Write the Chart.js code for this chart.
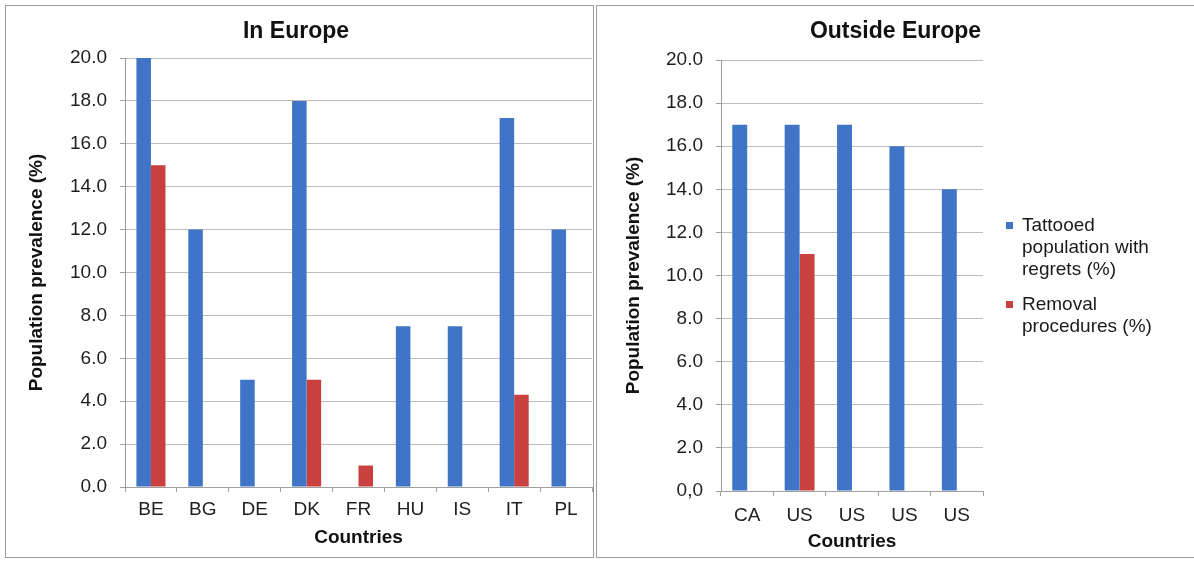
<!DOCTYPE html>
<html>
<head>
<meta charset="utf-8">
<script src="https://cdn.jsdelivr.net/npm/chart.js@4.4.1/dist/chart.umd.min.js"></script>
<style>
html,body{margin:0;padding:0;background:#fff;width:1194px;height:563px;overflow:hidden;font-family:"Liberation Sans",Arial,sans-serif;}
canvas{position:absolute;top:0;}
#c1{left:0;}
#c2{left:597px;}
.panel{position:absolute;border:1.5px solid #9c9c9c;box-sizing:border-box;pointer-events:none;}
#p1{left:5px;top:5px;width:589px;height:553px;}
#p2{left:596px;top:5px;width:620px;height:553px;}
#legend{position:absolute;left:1004px;top:214px;font-size:19px;line-height:22px;color:#1a1a1a;}
.item{position:relative;padding-left:18px;width:145px;}
.item + .item{margin-top:13px;}
.sw{position:absolute;left:2px;top:8px;width:7px;height:7px;}
</style>
</head>
<body>
<canvas id="c1" width="594" height="563"></canvas>
<canvas id="c2" width="597" height="563"></canvas>
<div class="panel" id="p1"></div>
<div class="panel" id="p2"></div>
<div id="legend"></div>
<script>
// ---- data ----
const leftCategories = ['BE', 'BG', 'DE', 'DK', 'FR', 'HU', 'IS', 'IT', 'PL'];
const leftRegrets = [20, 12, 5, 18, null, 7.5, 7.5, 17.2, 12];
const leftRemoval = [15, null, null, 5, 1, null, null, 4.3, null];

const rightCategories = ['CA', 'US', 'US', 'US', 'US'];
const rightRegrets = [17, 17, 17, 16, 14];
const rightRemoval = [null, 11, null, null, null];

const leftTickLabels = ['0.0', '2.0', '4.0', '6.0', '8.0', '10.0', '12.0', '14.0', '16.0', '18.0', '20.0'];
const rightTickLabels = ['0,0', '2.0', '4.0', '6.0', '8.0', '10.0', '12.0', '14.0', '16.0', '18.0', '20.0'];

const seriesNames = ['Tattooed population with regrets (%)', 'Removal procedures (%)'];
const panelTitles = ['In Europe', 'Outside Europe'];
const xAxisTitle = 'Countries';
const yAxisTitle = 'Population prevalence (%)';

// ---- styles ----
const BLUE = '#3F74C6';
const RED = '#C9403E';
Chart.defaults.font.family = '"Liberation Sans", Arial, sans-serif';
Chart.defaults.color = '#1e1e1e';

function makeChart(id, cfg) {
  const scales = {
    x: {
      type: 'category',
      offset: true,
      grid: { display: true, drawOnChartArea: false, drawTicks: true, tickLength: 5, tickColor: '#a0a0a0', offset: true },
      border: { display: true, color: '#a0a0a0', width: 1 },
      ticks: { color: '#1e1e1e', font: { size: 19 }, padding: cfg.xTickPad, maxRotation: 0, autoSkip: false },
      title: { display: true, text: xAxisTitle, color: '#111', font: { size: 19, weight: 'bold' }, padding: { top: 0, bottom: cfg.xTitlePad } },
      afterFit(s) { s.height = cfg.H - cfg.bottom; }
    },
    y: {
      type: 'linear',
      min: 0, max: 20,
      ticks: { stepSize: 2, color: '#1e1e1e', font: { size: 19 }, padding: 13,
        callback: (v) => cfg.tickLabels[Math.round(v / 2)] },
      grid: { color: '#bcbcbc', tickLength: 5, tickColor: '#a0a0a0' },
      border: { color: '#9a9a9a' },
      title: { display: true, text: yAxisTitle, color: '#111', font: { size: 19, weight: 'bold' }, padding: { top: 25, bottom: 0 } },
      afterFit(s) { s.width = cfg.left; }
    }
  };
  if (cfg.reserveRight) {
    scales.pad = {
      type: 'linear', position: 'right', axis: 'y', display: true,
      grid: { display: false }, border: { display: false }, ticks: { display: false },
      afterFit(s) { s.width = cfg.reserveRight; }
    };
  }
  return new Chart(document.getElementById(id), {
    type: 'bar',
    data: {
      labels: cfg.labels,
      datasets: [
        { label: seriesNames[0], data: cfg.a, backgroundColor: BLUE, borderWidth: 0, categoryPercentage: cfg.cp, barPercentage: 1 },
        { label: seriesNames[1], data: cfg.b, backgroundColor: RED, borderWidth: 0, categoryPercentage: cfg.cp, barPercentage: 1 }
      ]
    },
    options: {
      responsive: false,
      animation: false,
      devicePixelRatio: 1,
      layout: { padding: { left: 0, right: cfg.padRight, top: 0, bottom: 0 } },
      plugins: {
        legend: { display: false },
        tooltip: { enabled: false },
        title: { display: true, text: cfg.title, color: '#111', font: { size: 23, weight: 'bold' },
          padding: { top: cfg.titleTop, bottom: cfg.titleBottom } }
      },
      scales
    }
  });
}

makeChart('c1', {
  labels: leftCategories, a: leftRegrets, b: leftRemoval, tickLabels: leftTickLabels,
  title: panelTitles[0], H: 563, left: 125, bottom: 487, padRight: 2,
  titleTop: 18, titleBottom: 12.4, xTickPad: 6, xTitlePad: 13.6, cp: 0.56, reserveRight: 0
});
makeChart('c2', {
  labels: rightCategories, a: rightRegrets, b: rightRemoval, tickLabels: rightTickLabels,
  title: panelTitles[1], H: 563, left: 124, bottom: 491, padRight: 0,
  titleTop: 18, titleBottom: 14.4, xTickPad: 8, xTitlePad: 9.6, cp: 0.57, reserveRight: 211
});

// HTML legend
const legend = document.getElementById('legend');
[BLUE, RED].forEach((c, i) => {
  const d = document.createElement('div');
  d.className = 'item';
  const sw = document.createElement('span');
  sw.className = 'sw';
  sw.style.background = c;
  d.appendChild(sw);
  d.appendChild(document.createTextNode(seriesNames[i]));
  legend.appendChild(d);
});
</script>
</body>
</html>
